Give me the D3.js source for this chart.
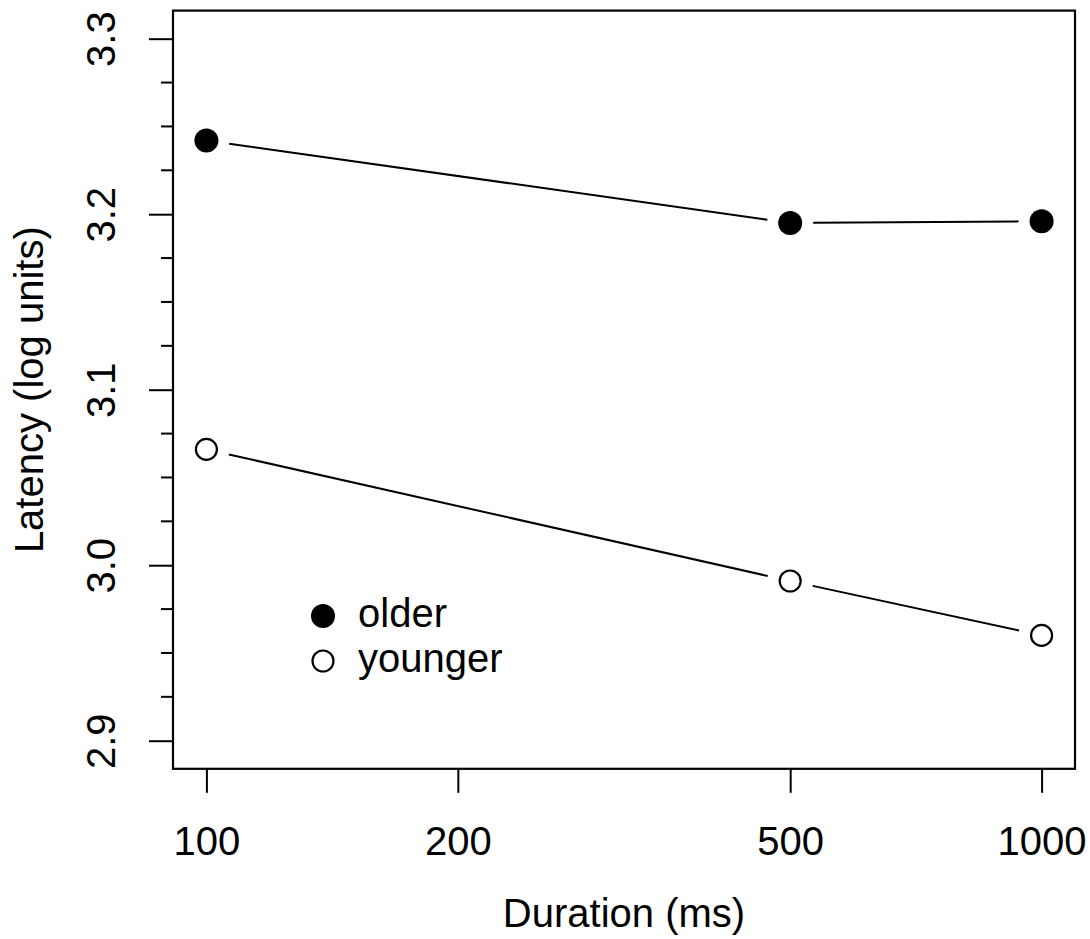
<!DOCTYPE html>
<html>
<head>
<meta charset="utf-8">
<script src="https://cdn.jsdelivr.net/npm/d3@7"></script>
<style>
  body { margin: 0; background: #fff; }
  text { font-family: "Liberation Sans", Arial, sans-serif; fill: #000; }
</style>
</head>
<body>
<div id="chart"></div>
<script>
// values
const durations = [100, 500, 1000]
const older = [3.242, 3.195, 3.196]
const younger = [3.066, 2.991, 2.960]
const xTicks = [100, 200, 500, 1000]
const yTicks = [2.9, 3.0, 3.1, 3.2, 3.3]
const yMinor = [2.925, 2.95, 2.975, 3.025, 3.05, 3.075, 3.125, 3.15, 3.175, 3.225, 3.25, 3.275]
const groups = ["older", "younger"]

const W = 1090, H = 939
// plot box edges (top is taken by window.top, so short names)
const bx0 = 173, bx1 = 1075, by0 = 10.6, by1 = 768.8
const fs = 40

const svg = d3.select("#chart").append("svg")
  .attr("width", W).attr("height", H)

// R style: 4% padding on each side of the data range
const x = d3.scaleLog().domain([Math.pow(10, 1.96), Math.pow(10, 3.04)]).range([bx0, bx1])
const y = d3.scaleLinear().domain([2.884, 3.316]).range([by1, by0])

// box
svg.append("rect")
  .attr("x", bx0).attr("y", by0)
  .attr("width", bx1 - bx0).attr("height", by1 - by0)
  .attr("fill", "none").attr("stroke", "#000").attr("stroke-width", 2.2)

// x axis
const xAxis = svg.append("g").attr("transform", `translate(0,${by1})`)
  .call(d3.axisBottom(x).tickValues(xTicks).tickFormat(d3.format("d")).tickSize(24).tickPadding(0))
xAxis.select(".domain").remove()
xAxis.selectAll(".tick line").attr("stroke-width", 2)
xAxis.selectAll(".tick text")
  .attr("y", 86).attr("dy", null)
  .style("font-size", fs + "px").style("font-family", '"Liberation Sans", Arial, sans-serif')

// y axis, labels turned like R's las=0
const yAxis = svg.append("g").attr("transform", `translate(${bx0},0)`)
  .call(d3.axisLeft(y).tickValues(yTicks).tickFormat(d3.format(".1f")).tickSize(24).tickPadding(0))
yAxis.select(".domain").remove()
yAxis.selectAll(".tick line").attr("stroke-width", 2)
yAxis.selectAll(".tick text")
  .attr("x", null).attr("dy", null)
  .attr("text-anchor", "middle")
  .attr("transform", "translate(-58,0) rotate(-90)")
  .style("font-size", fs + "px").style("font-family", '"Liberation Sans", Arial, sans-serif')

svg.append("g").selectAll("line")
  .data(yMinor).enter().append("line")
  .attr("x1", bx0 - 12).attr("x2", bx0)
  .attr("y1", d => y(d)).attr("y2", d => y(d))
  .attr("stroke", "#000").attr("stroke-width", 2)

// axis titles
svg.append("text")
  .attr("x", (bx0 + bx1) / 2).attr("y", 927)
  .attr("text-anchor", "middle").style("font-size", fs + "px")
  .text("Duration (ms)")
svg.append("text")
  .attr("transform", `translate(43,${(by0 + by1) / 2}) rotate(-90)`)
  .attr("text-anchor", "middle").style("font-size", fs + "px")
  .text("Latency (log units)")

// lines with gaps round the points, like type="b"
const gap = 23
function drawSeries(vals, filled) {
  const pts = durations.map((d, i) => [x(d), y(vals[i])])
  const segs = d3.pairs(pts)
  svg.append("g").selectAll("line")
    .data(segs).enter().append("line")
    .each(function([a, b]) {
      const dx = b[0] - a[0], dy = b[1] - a[1]
      const len = Math.hypot(dx, dy)
      const ux = dx / len, uy = dy / len
      d3.select(this)
        .attr("x1", a[0] + ux * gap).attr("y1", a[1] + uy * gap)
        .attr("x2", b[0] - ux * gap).attr("y2", b[1] - uy * gap)
    })
    .attr("stroke", "#000").attr("stroke-width", 2)
  svg.append("g").selectAll("circle")
    .data(pts).enter().append("circle")
    .attr("cx", d => d[0]).attr("cy", d => d[1])
    .attr("r", filled ? 12 : 10.5)
    .attr("fill", filled ? "#000" : "#fff")
    .attr("stroke", "#000").attr("stroke-width", filled ? 0 : 2.2)
}
drawSeries(older, true)
drawSeries(younger, false)

// legend
const leg = svg.append("g").attr("transform", "translate(323,616)")
groups.forEach((g, i) => {
  const row = leg.append("g").attr("transform", `translate(0,${i * 45})`)
  row.append("circle")
    .attr("r", i === 0 ? 12 : 10.5)
    .attr("fill", i === 0 ? "#000" : "#fff")
    .attr("stroke", "#000").attr("stroke-width", i === 0 ? 0 : 2.2)
  row.append("text")
    .attr("x", 35).attr("y", 11)
    .style("font-size", fs + "px")
    .text(g)
})
</script>
</body>
</html>
